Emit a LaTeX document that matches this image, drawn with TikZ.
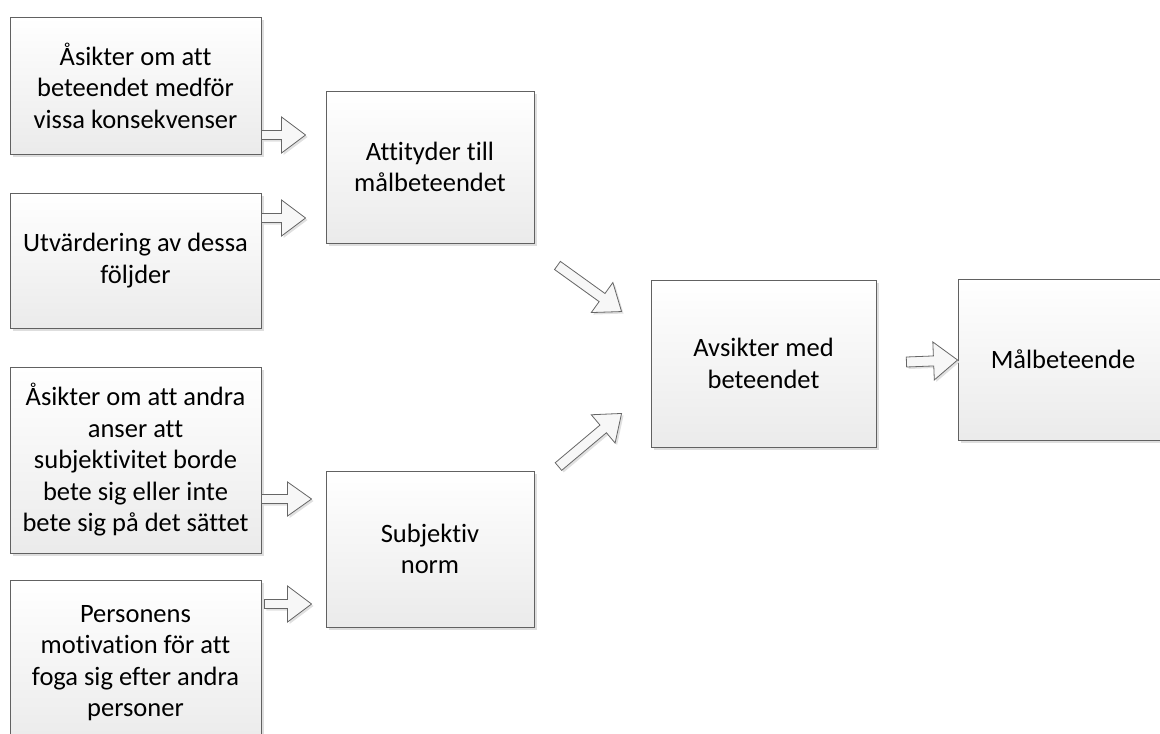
\documentclass[tikz,border=0pt]{standalone}
\usepackage{fontspec}
\setmainfont{Carlito}[Ligatures={NoCommon}]
\usetikzlibrary{calc,shadows}
\tikzset{
  box/.style={rectangle, draw=black!62, line width=0.9pt,
    top color=white, bottom color=black!8,
    drop shadow={shadow xshift=3pt, shadow yshift=-3pt, fill=black!13, opacity=1},
    align=center, inner sep=3pt,
    font=\fontsize{26.5}{31.5}\selectfont},
  blockarrow/.style={draw=black!60, line width=0.8pt, fill=black!3,
    line join=miter,
    drop shadow={shadow xshift=2pt, shadow yshift=-2pt, fill=black!12, opacity=1}},
}
\newcommand\blkarrow[4]{% from #1 to #2, shaft half width #3, head half width #4
  \coordinate (ba-n) at ($(#2)!24pt!(#1)$);
  \path[blockarrow]
    ($(#1)!#3!90:(#2)$) -- ($(ba-n)!#3!-90:(#1)$) -- ($(ba-n)!#4!-90:(#1)$) -- (#2)
    -- ($(ba-n)!#4!90:(#1)$) -- ($(ba-n)!#3!90:(#1)$) -- ($(#1)!#3!-90:(#2)$) -- cycle;
}
\begin{document}
\begin{tikzpicture}[x=1pt,y=-1pt]
\useasboundingbox (0,0) rectangle (1160,734);
% left column
\node[box, minimum width=251pt, minimum height=137pt] (a1) at (135.5,85.5)
  {Åsikter om att\\beteendet medför\\vissa konsekvenser};
\node[box, minimum width=251pt, minimum height=135pt] (a2) at (135.5,260.5)
  {Utvärdering av dessa\\följder};
\node[box, minimum width=251pt, minimum height=186pt] (b1) at (135.5,460)
  {Åsikter om att andra\\anser att\\subjektivitet borde\\bete sig eller inte\\bete sig på det sättet};
\node[box, minimum width=251pt, minimum height=166pt] (b2) at (135.5,663)
  {Personens\\motivation för att\\foga sig efter andra\\personer};
% middle column
\node[box, minimum width=208pt, minimum height=152pt] (att) at (430,167)
  {Attityder till\\målbeteendet};
\node[box, minimum width=208pt, minimum height=156pt] (sub) at (430,549)
  {Subjektiv\\norm};
% right
\node[box, minimum width=225pt, minimum height=167pt] (avs) at (763.5,363.5)
  {Avsikter med\\beteendet};
\node[box, minimum width=210pt, minimum height=161pt] (mal) at (1063,359.5)
  {Målbeteende};
% arrow end points
\coordinate (s1) at (a1.east |- 0,135);
\coordinate (e1) at ($(att.west |- 0,135)+(-20,0)$);
\coordinate (s2) at (a2.east |- 0,218);
\coordinate (e2) at ($(att.west |- 0,218)+(-20,0)$);
\coordinate (s3) at (b1.east |- 0,499);
\coordinate (e3) at ($(sub.west |- 0,499)+(-14,0)$);
\coordinate (s4) at ($(b2.east |- 0,604)+(3,0)$);
\coordinate (e4) at ($(sub.west |- 0,604)+(-14,0)$);
\coordinate (s5) at ($(att.south east)+(23,22)$);
\coordinate (e5) at ($(avs.north west)+(-29,32)$);
\coordinate (s6) at ($(sub.north east)+(24,-4)$);
\coordinate (e6) at ($(avs.south west)+(-29,-34)$);
\coordinate (s7) at ($(avs.east |- 0,362)+(30,0)$);
\coordinate (e7) at (mal.west |- 0,360);
\blkarrow{s1}{e1}{4.5pt}{18pt}
\blkarrow{s2}{e2}{4.5pt}{18pt}
\blkarrow{s3}{e3}{4.5pt}{17pt}
\blkarrow{s4}{e4}{4.5pt}{18pt}
\blkarrow{s5}{e5}{5pt}{18.5pt}
\blkarrow{s6}{e6}{5pt}{18.5pt}
\blkarrow{s7}{e7}{5pt}{19pt}
\end{tikzpicture}
\end{document}
